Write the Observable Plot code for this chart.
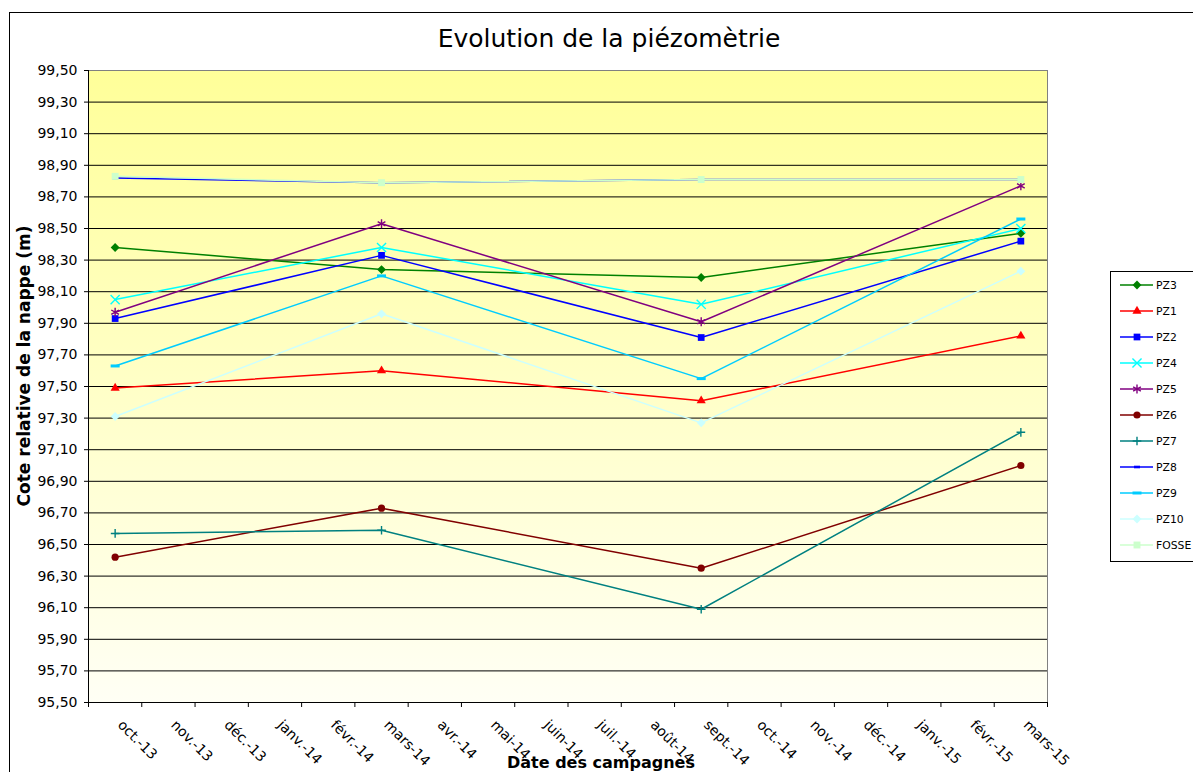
<!DOCTYPE html>
<html><head><meta charset="utf-8">
<script src="https://cdn.jsdelivr.net/npm/d3@7"></script>
<script src="https://cdn.jsdelivr.net/npm/@observablehq/plot@0.6"></script>
<style>
body{margin:0;background:#fff}
#chart{position:relative;width:1193px;height:772px;overflow:hidden}
</style>
</head><body><div id="chart"></div><script>
// Month labels of the date axis (one slot per month)
const monthLabels = ["oct.-13","nov.-13","déc.-13","janv.-14","févr.-14","mars-14","avr.-14","mai-14","juin-14","juil.-14","août-14","sept.-14","oct.-14","nov.-14","déc.-14","janv.-15","févr.-15","mars-15"];
// Campaign dates
const campagnes = ["oct.-13","mars-14","sept.-14","mars-15"];
// Y ticks
const yTicks = [95.5,95.7,95.9,96.1,96.3,96.5,96.7,96.9,97.1,97.3,97.5,97.7,97.9,98.1,98.3,98.5,98.7,98.9,99.1,99.3,99.5];

// Series (legend order)
const seriesNames = ["PZ3","PZ1","PZ2","PZ4","PZ5","PZ6","PZ7","PZ8","PZ9","PZ10","FOSSE"];
const PZ3   = [98.38, 98.24, 98.19, 98.47];
const PZ1   = [97.49, 97.60, 97.41, 97.82];
const PZ2   = [97.93, 98.33, 97.81, 98.42];
const PZ4   = [98.05, 98.38, 98.02, 98.50];
const PZ5   = [97.97, 98.53, 97.91, 98.77];
const PZ6   = [96.42, 96.73, 96.35, 97.00];
const PZ7   = [96.57, 96.59, 96.09, 97.21];
const PZ8   = [98.82, 98.79, 98.81, 98.81];
const PZ9   = [97.63, 98.20, 97.55, 98.56];
const PZ10  = [97.31, 97.96, 97.27, 98.23];
const FOSSE = [98.83, 98.79, 98.81, 98.81];
const seriesValues = [PZ3, PZ1, PZ2, PZ4, PZ5, PZ6, PZ7, PZ8, PZ9, PZ10, FOSSE];
const seriesColors = ["#008000","#FF0000","#0000FF","#00FFFF","#800080","#800000","#008080","#0000FF","#00CCFF","#CCFFFF","#CCFFCC"];

// custom dash symbols
const dashSmall = {draw(ctx){ ctx.moveTo(-3,-1.3); ctx.lineTo(3,-1.3); ctx.lineTo(3,1.3); ctx.lineTo(-3,1.3); ctx.closePath(); }};
const dashLong  = {draw(ctx){ ctx.moveTo(-4.5,-1.5); ctx.lineTo(4.5,-1.5); ctx.lineTo(4.5,1.5); ctx.lineTo(-4.5,1.5); ctx.closePath(); }};
// marker styling: [plot symbol, d3 symbol, r, filled]
const markerStyles = [
  ["diamond2", d3.symbolDiamond2, 4, true],
  ["triangle", d3.symbolTriangle, 3.4, true],
  ["square", d3.symbolSquare, 3.8, true],
  ["times", d3.symbolTimes, 4.2, false],
  ["asterisk", d3.symbolAsterisk, 4.2, false],
  ["circle", d3.symbolCircle, 3.6, true],
  ["plus", d3.symbolPlus, 2.9, false],
  [dashSmall, dashSmall, 3, true],
  [dashLong, dashLong, 3, true],
  ["diamond2", d3.symbolDiamond2, 4, true],
  ["square", d3.symbolSquare, 3.9, true]
];

const rows = [];
seriesNames.forEach((name, s) => {
  seriesValues[s].forEach((v, k) => {
    rows.push({serie: name, mois: monthLabels.indexOf(campagnes[k]) + 0.5, cote: v});
  });
});

const fmt = d => d.toFixed(2).replace(".", ",");

const seriesMarks = [];
seriesNames.forEach((name, s) => {
  const data = rows.filter(r => r.serie === name);
  const [sym, , r, filled] = markerStyles[s];
  const col = seriesColors[s];
  seriesMarks.push(Plot.line(data, {x: "mois", y: "cote", stroke: col, strokeWidth: 1.5}));
  seriesMarks.push(Plot.dot(data, {x: "mois", y: "cote", symbol: sym, r,
    fill: filled ? col : "none", stroke: filled ? "none" : col, strokeWidth: 1.4}));
});

const chart = Plot.plot({
  width: 1193, height: 772,
  marginLeft: 88, marginRight: 146, marginTop: 70, marginBottom: 70,
  style: {fontFamily: "'DejaVu Sans', Verdana, sans-serif", fontSize: "14px", background: "#fff", color: "#000"},
  x: {type: "linear", domain: [0, monthLabels.length], axis: null},
  y: {domain: [yTicks[0], yTicks[yTicks.length - 1]], axis: null},
  marks: [
    Plot.frame({fill: "url(#bg)", stroke: "none"}),
    Plot.gridY({ticks: yTicks.slice(1, -1), stroke: "#000", strokeOpacity: 1}),
    Plot.frame({stroke: "#808080"}),
    Plot.ruleX([0], {stroke: "#000"}),
    Plot.ruleY([yTicks[0]], {stroke: "#000"}),
    Plot.axisY({ticks: yTicks, tickSize: 4, tickPadding: 7, tickFormat: fmt, fontSize: 14, label: null}),
    Plot.axisX({ticks: d3.range(0, monthLabels.length + 1), tickSize: 5, tickFormat: () => "", label: null}),
    Plot.text(monthLabels, {x: (d, i) => i + 0.5, text: d => d, frameAnchor: "bottom", dx: 5, dy: 20,
      rotate: 45, textAnchor: "start", lineAnchor: "middle", fontSize: 14, fill: "#000"}),
    ...seriesMarks
  ]
});

const svg = d3.select(chart);
const defs = svg.insert("defs", ":first-child");
const grad = defs.append("linearGradient").attr("id", "bg").attr("x1", 0).attr("y1", 0).attr("x2", 0).attr("y2", 1);
grad.append("stop").attr("offset", "0%").attr("stop-color", "#FFFF99");
grad.append("stop").attr("offset", "100%").attr("stop-color", "#FFFFF5");

// outer chart border
svg.append("rect").attr("x", 9.5).attr("y", 12.5).attr("width", 1400).attr("height", 900)
  .attr("fill", "none").attr("stroke", "#000");

// titles
svg.append("text").attr("x", 609).attr("y", 47).attr("text-anchor", "middle")
  .attr("font-size", 25).attr("fill", "#000").text("Evolution de la piézomètrie");
svg.append("text").attr("transform", "translate(25,366) rotate(-90)").attr("text-anchor", "middle")
  .attr("dominant-baseline", "middle").attr("font-size", 17).attr("font-weight", "bold").attr("fill", "#000")
  .text("Cote relative de la nappe (m)");
svg.append("text").attr("x", 601).attr("y", 768).attr("text-anchor", "middle")
  .attr("font-size", 16).attr("font-weight", "bold").attr("fill", "#000").text("Date des campagnes");

// legend
const lg = svg.append("g");
lg.append("rect").attr("x", 1110.5).attr("y", 271.5).attr("width", 200).attr("height", 290)
  .attr("fill", "#fff").attr("stroke", "#000");
seriesNames.forEach((name, s) => {
  const y = 285 + 26 * s;
  const col = seriesColors[s];
  const [, dsym, r, filled] = markerStyles[s];
  lg.append("line").attr("x1", 1120).attr("x2", 1153).attr("y1", y).attr("y2", y)
    .attr("stroke", col).attr("stroke-width", 1.5);
  lg.append("path").attr("transform", `translate(1137,${y})`)
    .attr("d", d3.symbol().type(dsym).size(Math.PI * r * r)())
    .attr("fill", filled ? col : "none").attr("stroke", filled ? "none" : col).attr("stroke-width", 1.4);
  lg.append("text").attr("x", 1156).attr("y", y).attr("text-anchor", "start").attr("dominant-baseline", "central")
    .attr("font-size", 10.8).attr("fill", "#000").text(name);
});

document.getElementById("chart").appendChild(chart);
</script></body></html>
